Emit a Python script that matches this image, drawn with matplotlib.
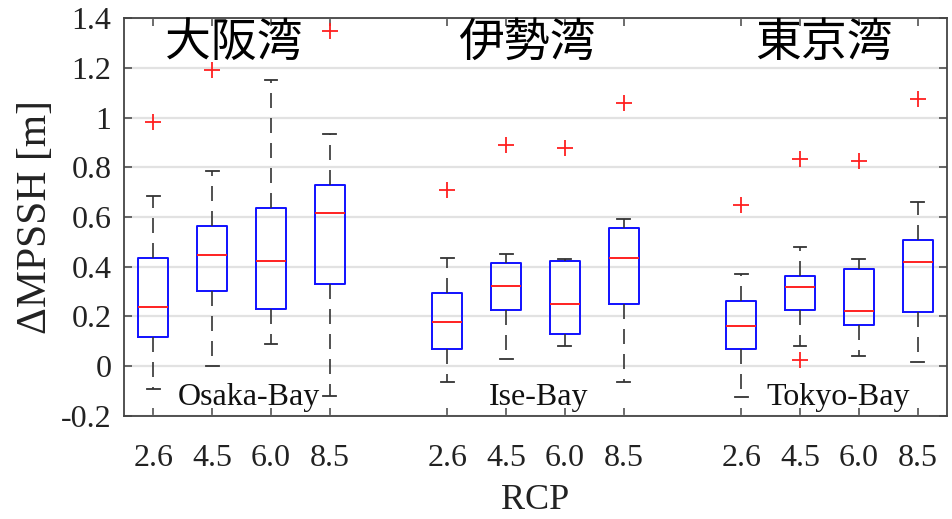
import matplotlib
matplotlib.use("Agg")
import matplotlib.pyplot as plt

# RCP scenarios shown for each bay
rcp_labels = ["2.6", "4.5", "6.0", "8.5"]
bay_names_en = ["Osaka-Bay", "Ise-Bay", "Tokyo-Bay"]
bay_names_jp = ["大阪湾", "伊勢湾", "東京湾"]

# box statistics per bay, one value per RCP scenario (m)
osaka_whishi = [0.685, 0.785, 1.150, 0.933]
osaka_q3 = [0.436, 0.564, 0.636, 0.729]
osaka_med = [0.238, 0.447, 0.423, 0.616]
osaka_q1 = [0.118, 0.302, 0.231, 0.329]
osaka_whislo = [-0.090, 0.000, 0.091, -0.120]
osaka_fliers = [[0.983], [1.192], [], [1.349]]

ise_whishi = [0.436, 0.450, 0.432, 0.593]
ise_q3 = [0.294, 0.415, 0.424, 0.557]
ise_med = [0.179, 0.323, 0.251, 0.436]
ise_q1 = [0.070, 0.228, 0.128, 0.251]
ise_whislo = [-0.062, 0.031, 0.081, -0.064]
ise_fliers = [[0.709], [0.889], [0.878], [1.058]]

tokyo_whishi = [0.372, 0.479, 0.432, 0.660]
tokyo_q3 = [0.263, 0.361, 0.389, 0.506]
tokyo_med = [0.161, 0.318, 0.223, 0.421]
tokyo_q1 = [0.068, 0.227, 0.166, 0.220]
tokyo_whislo = [-0.125, 0.081, 0.043, 0.017]
tokyo_fliers = [[0.648], [0.835, 0.024], [0.827], [1.074]]

bays = [
    (osaka_whislo, osaka_q1, osaka_med, osaka_q3, osaka_whishi, osaka_fliers),
    (ise_whislo, ise_q1, ise_med, ise_q3, ise_whishi, ise_fliers),
    (tokyo_whislo, tokyo_q1, tokyo_med, tokyo_q3, tokyo_whishi, tokyo_fliers),
]

stats = []
positions = []
for b, (lo, q1, med, q3, hi, fl) in enumerate(bays):
    for i in range(len(rcp_labels)):
        stats.append(dict(whislo=lo[i], q1=q1[i], med=med[i], q3=q3[i],
                          whishi=hi[i], fliers=fl[i]))
        positions.append(1 + 5 * b + i)

serif = "Liberation Serif"
cjk = "Noto Sans CJK JP"

fig = plt.figure(figsize=(9.52, 5.19), dpi=100)
ax = fig.add_axes([0.1303, 0.1985, 0.8644, 0.7668])

ax.set_axisbelow(True)
ax.yaxis.grid(True, color="#e2e2e2", linewidth=1.6)

ax.bxp(stats, positions=positions, widths=0.51, capwidths=0.22,
       boxprops=dict(color="#1010ff", linewidth=1.4),
       medianprops=dict(color="#ff2020", linewidth=1.4),
       whiskerprops=dict(color="#333333", linewidth=1.2, linestyle=(0, (9, 6))),
       capprops=dict(color="#333333", linewidth=1.3),
       flierprops=dict(marker="+", markersize=11, markeredgecolor="#ff2020",
                       markeredgewidth=1.3, linestyle="none"))

ax.set_xlim(0.5, 14.5)
ax.set_ylim(-0.2, 1.4)

yt = [-0.2, 0, 0.2, 0.4, 0.6, 0.8, 1.0, 1.2, 1.4]
ax.set_yticks(yt)
ax.set_yticklabels(["-0.2", "0", "0.2", "0.4", "0.6", "0.8", "1", "1.2", "1.4"])
ax.set_xticks(positions)
ax.set_xticklabels(rcp_labels * 3)

ax.tick_params(axis="both", direction="in", length=6, width=1.1,
               color="#444444", labelcolor="#222222", labelsize=23)
ax.tick_params(axis="x", top=True, pad=20)
ax.tick_params(axis="y", right=True, pad=9)
for lab in ax.get_xticklabels() + ax.get_yticklabels():
    lab.set_family(serif)

for s in ax.spines.values():
    s.set_color("#444444")
    s.set_linewidth(1.3)

ax.set_xlabel("RCP", family=serif, fontsize=26, color="#222222", labelpad=8)
ax.set_ylabel("ΔMPSSH [m]", family=serif, fontsize=30, color="#222222", labelpad=4)

title_x = [2.36, 7.35, 12.40]
label_x = [2.63, 7.55, 12.65]
for b in range(3):
    ax.text(title_x[b], 1.30, bay_names_jp[b], family=cjk, fontsize=33,
            ha="center", va="center", color="black")
    ax.text(label_x[b], -0.125, bay_names_en[b], family=serif, fontsize=23,
            ha="center", va="center", color="#111111")

fig.savefig("out.png", dpi=100)
